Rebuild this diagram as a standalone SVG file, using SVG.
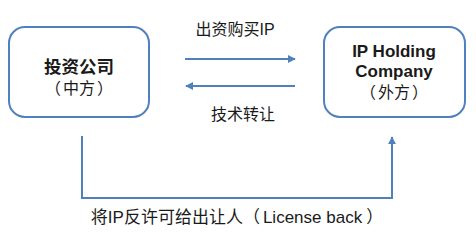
<svg xmlns="http://www.w3.org/2000/svg" width="476" height="240" viewBox="0 0 476 240">
<defs>
<style>
.box{fill:#fff;stroke:#4F81BD;stroke-width:2}
.ln{fill:none;stroke:#4F81BD;stroke-width:2}
.t{font-family:"Liberation Sans","Noto Sans CJK SC",sans-serif;fill:#1a1a1a;text-anchor:middle}
.b{font-weight:bold;font-size:17.5px}
.b2{font-weight:bold;font-size:17px}
.n{font-size:16px}
.m{font-size:17px}
</style>
<marker id="ah" viewBox="0 0 10 10" refX="9" refY="5" markerWidth="4" markerHeight="4" orient="auto-start-reverse" markerUnits="strokeWidth">
<path d="M0,0 L10,5 L0,10 Z" fill="#4F81BD"/>
</marker>
</defs>
<rect width="476" height="240" fill="#fff"/>
<g id="investor">
<rect class="box" x="9" y="27" width="140" height="90" rx="16"/>
<text class="t b" x="79" y="73">投资公司</text>
<text class="t n" x="79" y="94">（<tspan dx="2">中方</tspan><tspan dx="2">）</tspan></text>
</g>
<g id="ipholding">
<rect class="box" x="324" y="27" width="141" height="90" rx="16"/>
<text class="t b2" x="394" y="57">IP Holding</text>
<text class="t b2" x="394" y="77">Company</text>
<text class="t n" x="394" y="98">（<tspan dx="2">外方</tspan><tspan dx="2">）</tspan></text>
</g>
<g id="connectors">
<line class="ln" x1="185" y1="59" x2="295" y2="59" marker-end="url(#ah)"/>
<line class="ln" x1="295" y1="86" x2="186" y2="86" marker-end="url(#ah)"/>
<polyline class="ln" points="82,136 82,198 392,198 392,137" marker-end="url(#ah)"/>
<text class="t n" x="235" y="35">出资购买IP</text>
<text class="t n" x="243" y="120">技术转让</text>
<text class="t m" x="237" y="223">将IP反许可给出让人（<tspan dx="3">License back</tspan><tspan dx="4">）</tspan></text>
</g>
</svg>
